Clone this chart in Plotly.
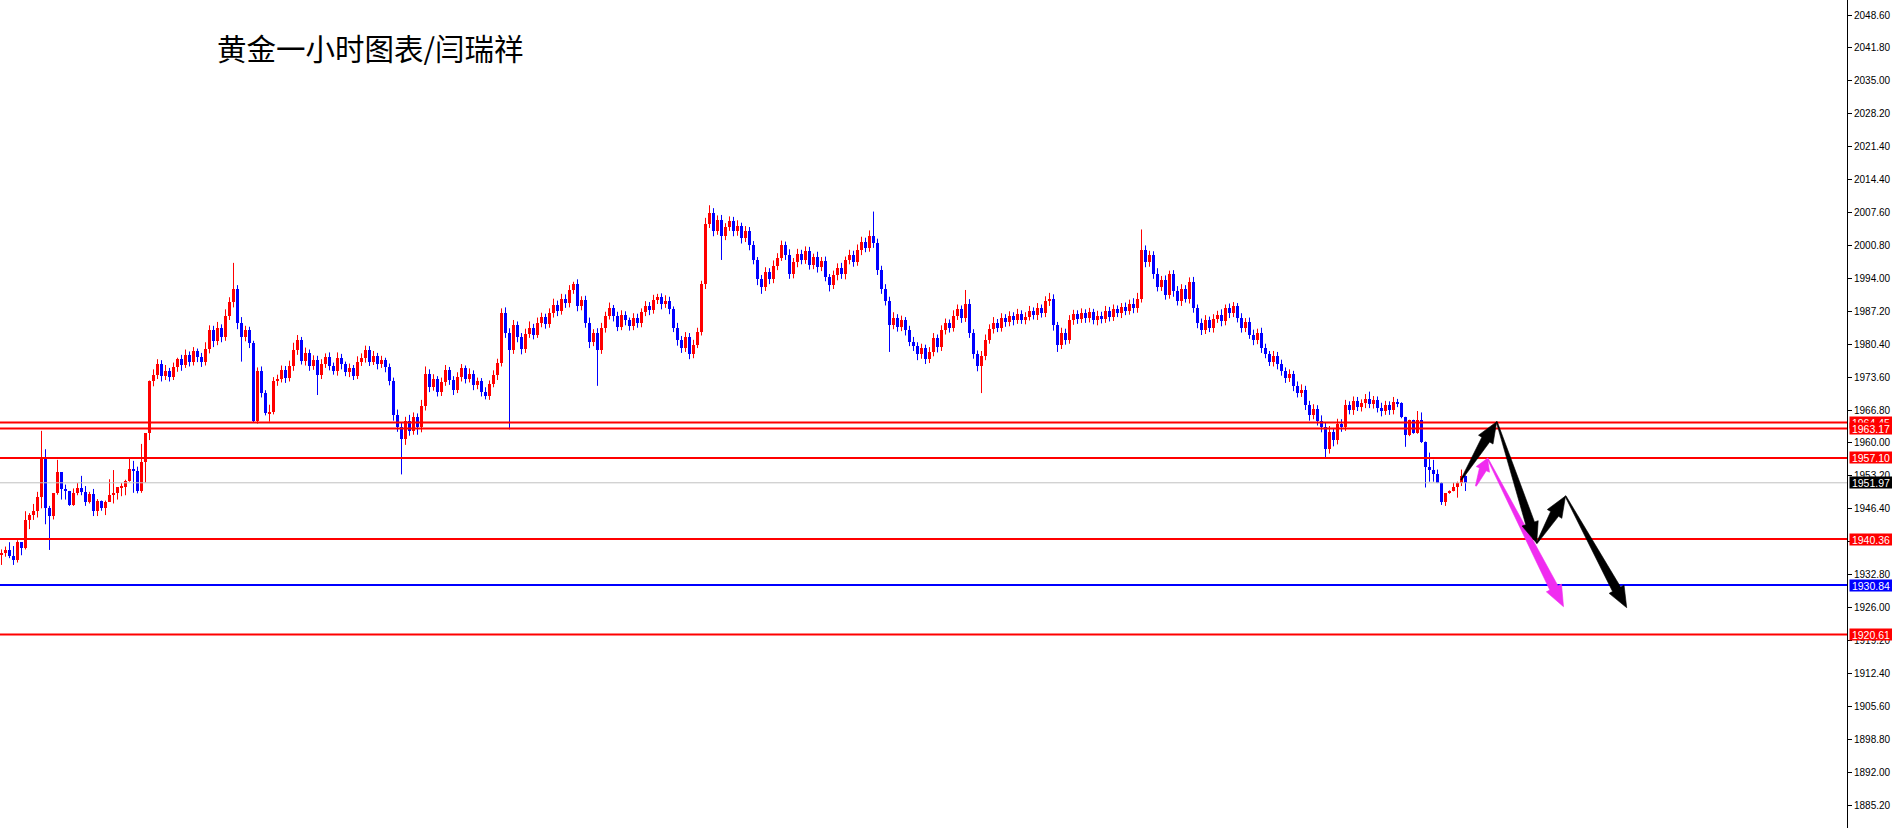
import math
import plotly.graph_objects as go

# ---------------- data ----------------
OPEN0 = 1937.1
closes = [
    1937.5, 1938.1, 1936.8, 1936.0, 1939.7, 1938.4, 1944.3, 1945.3, 1946.1, 1949.1,
    1957.2, 1946.8, 1945.1, 1949.8, 1954.2, 1950.6, 1950.3, 1947.4, 1949.8, 1950.8,
    1950.1, 1948.1, 1949.7, 1946.2, 1948.3, 1946.8, 1948.0, 1949.4, 1949.9, 1951.0,
    1951.2, 1952.4, 1954.8, 1954.5, 1950.3, 1956.3, 1962.2, 1972.9, 1974.2, 1976.5,
    1974.0, 1975.1, 1973.9, 1975.8, 1977.5, 1976.3, 1978.4, 1977.0, 1979.1, 1978.0,
    1976.9, 1979.6, 1983.5, 1981.2, 1984.0, 1982.0, 1986.5, 1989.3, 1992.0, 1985.0,
    1982.0, 1983.5, 1980.8, 1964.8, 1975.0, 1970.5, 1966.3, 1966.6, 1972.9, 1973.5,
    1975.2, 1973.6, 1976.0, 1979.5, 1981.5, 1977.2, 1978.8, 1976.0, 1977.4, 1974.3,
    1976.5, 1978.0, 1976.2, 1975.0, 1977.8, 1976.5, 1974.8, 1975.6, 1974.1, 1976.9,
    1977.8, 1979.5, 1977.0, 1978.2, 1976.5, 1977.3, 1975.8, 1973.0, 1966.0, 1963.5,
    1961.0, 1964.8, 1962.7, 1965.6, 1963.4, 1967.8, 1974.5, 1971.8, 1973.4, 1970.8,
    1972.8, 1975.2, 1973.2, 1971.2, 1973.8, 1975.6, 1973.5, 1974.4, 1972.2, 1973.0,
    1970.8, 1970.0, 1972.4, 1974.2, 1976.8, 1987.0, 1983.0, 1979.5, 1984.5, 1982.0,
    1979.6, 1982.8, 1984.0, 1982.6, 1985.0, 1986.2, 1984.8, 1987.0, 1988.8, 1987.5,
    1990.0, 1989.1, 1991.7, 1993.0, 1988.5, 1989.7, 1985.0, 1981.0, 1983.0, 1979.5,
    1984.0, 1986.5, 1988.0, 1986.4, 1984.2, 1986.6, 1985.5, 1984.3, 1986.0, 1985.0,
    1987.2, 1988.4, 1987.6, 1989.8, 1990.3, 1988.9, 1989.5, 1987.8, 1984.0, 1981.5,
    1979.8, 1982.0, 1978.6, 1980.5, 1983.2, 1993.0, 2005.5, 2007.8, 2004.0, 2006.2,
    2003.0, 2004.8, 2006.0, 2003.9, 2005.0, 2002.5, 2004.0, 2001.0, 1998.0, 1994.0,
    1992.5, 1995.5, 1994.0, 1996.8, 1998.5, 2001.0, 1999.0, 1995.0, 1997.5, 1999.3,
    1998.0, 1999.8, 1997.0, 1998.6, 1996.5, 1997.8, 1994.5, 1992.8, 1994.8, 1996.4,
    1995.0, 1997.9, 1999.0, 1997.5, 2000.0, 2001.8, 2000.5, 2003.0, 2001.5, 1996.0,
    1992.0, 1989.5, 1984.5, 1986.0, 1984.2, 1985.5, 1983.5, 1981.0, 1980.2, 1978.5,
    1979.8, 1977.5, 1979.0, 1981.8, 1980.0, 1983.5, 1985.0, 1984.0, 1986.5, 1987.8,
    1986.0, 1989.0, 1983.0, 1978.5, 1976.0, 1978.2, 1981.5, 1983.8, 1985.0, 1984.0,
    1986.0, 1985.2, 1986.5, 1985.6, 1986.8, 1985.7, 1986.3, 1987.5, 1986.6, 1988.0,
    1987.0, 1989.5, 1990.0, 1984.5, 1980.5, 1983.0, 1981.5, 1985.5, 1986.8, 1985.8,
    1987.0, 1986.0, 1987.2, 1985.5, 1986.5, 1985.8, 1987.4, 1986.3, 1987.8, 1987.0,
    1988.2, 1987.5, 1989.0, 1988.0, 1990.0, 2000.0, 1997.5, 1999.0, 1995.2, 1992.5,
    1993.8, 1990.8, 1995.0, 1991.5, 1989.5, 1992.0, 1990.0, 1993.5, 1988.0, 1985.0,
    1983.5, 1985.5, 1984.0, 1985.8, 1986.6, 1985.4, 1988.0, 1987.0, 1988.4, 1986.0,
    1984.0, 1985.2, 1982.5, 1981.5, 1983.0, 1979.8, 1978.5, 1977.0, 1978.2, 1976.5,
    1975.0, 1973.6, 1974.4, 1972.0, 1970.5, 1971.2, 1968.0, 1966.0, 1967.2, 1964.8,
    1963.5, 1959.0, 1962.5, 1960.8, 1964.2, 1963.5, 1968.0, 1967.0, 1968.8, 1967.6,
    1968.4, 1969.3, 1968.2, 1969.0, 1967.5, 1966.8, 1968.0, 1967.0, 1968.6, 1968.4,
    1965.5, 1961.8, 1964.9, 1962.2, 1964.9, 1960.3, 1955.3, 1954.7, 1953.7, 1952.0,
    1948.1, 1949.8, 1950.3, 1951.0, 1952.0, 1953.4, 1951.97,
]
upper_wick = [
    .7, .7, 1.6, 2.1, .4, 0, 1.8, .4, 1.5, 1.0,
    5.5, 1.7, .4, 0, 2.5, 0, 1.0, 0, 1.0, 1.1,
    2.6, 1.2, .4, 1.0, .3, 0, .3, 3.3, 4.7, 0,
    .7, .2, 2.4, 1.7, .8, 3.7, 0, .2, 1.2, 1.0,
    .8, 1.2, .6, 1.0, .3, .9, 1.1, .7, .9, .6,
    .8, 1.4, 1.0, .9, 1.2, .7, 1.3, 1.0, 5.4, .8,
    1.2, .9, .7, .5, .8, 1.0, .6, 1.5, .9, .8,
    1.0, .9, 1.2, 1.4, 1.0, .6, 1.1, .7, .9, .8,
    1.0, .7, .9, .6, 1.1, .8, .5, 1.0, .7, 1.2,
    .9, .8, .7, 1.0, .6, .9, .5, .8, .7, 1.1,
    1.0, .8, 1.2, .9, .7, 1.3, 1.5, .9, 1.0, .6,
    .9, 1.1, .7, .8, 1.0, .9, .6, 1.2, .8, .7,
    .6, .9, .7, 1.0, .8, 1.0, 1.2, .9, 1.1, .8,
    .9, 1.0, 1.3, .8, 1.1, .9, .7, 1.0, 1.2, .8,
    1.0, .9, 1.1, .5, 1.0, .8, .9, 1.1, .7, .9,
    1.0, .8, 1.2, .7, .9, 1.0, .8, .6, 1.0, .9,
    .8, 1.1, .9, 1.0, .7, .8, 1.2, .9, .6, 1.0,
    .8, 1.1, .9, 1.0, .8, .7, 1.2, 1.5, .9, 1.0,
    1.1, .8, 1.0, .9, 1.2, .7, 1.0, .8, .9, .6,
    .9, 1.0, .8, 1.1, .9, 1.0, .8, 1.2, .9, 1.0,
    .8, 1.0, .9, .7, 1.1, .8, .9, .6, 1.0, .9,
    1.0, .8, 1.1, .9, 1.2, 1.0, .8, 1.1, 5.0, .9,
    .8, 1.0, .9, 1.2, .8, 1.0, .7, .9, 1.1, .8,
    .9, .7, 1.0, 1.1, .8, 1.0, .9, .7, 1.1, 1.0,
    .8, 2.8, .9, .7, .8, 1.0, 1.1, .9, 1.2, .8,
    1.0, .8, .9, .7, 1.1, .8, .9, 1.0, .7, 1.1,
    .8, 1.0, 1.2, .9, .7, 1.0, .8, 1.1, .9, .8,
    1.0, .8, .9, .7, 1.0, .8, 1.1, .9, 1.0, .8,
    .9, 1.0, .8, 1.1, 1.2, 4.3, 1.0, .9, .8, 1.1,
    .9, 1.0, .8, .9, 1.1, 1.0, .8, .9, 1.0, .8,
    .9, 1.1, .8, 1.0, .9, 1.2, .8, 1.0, .9, .7,
    1.0, .8, .9, 1.1, .8, 1.0, .9, .7, 1.0, .8,
    .9, .8, 1.0, .7, .9, 1.1, .8, .9, 1.0, .8,
    1.1, .9, 1.2, .8, 1.0, .9, 1.1, .8, 1.0, .9,
    .8, 1.0, 1.5, .9, .8, 1.0, .9, .8, 1.1, .7,
    .2, .1, .1, .1, 1.9, 1.6, .2, 2.9, 2.0, 1.0,
    .1, 0, .1, 1.0, .2, 1.3, .1,
]
lower_wick = [
    2.1, .8, .4, 1.0, .5, 1.4, .2, 1.9, 1.0, 1.3,
    2.4, 3.4, 7.0, .7, .3, 2.1, 1.8, .2, .2, .4,
    .7, .9, .4, 1.1, 1.1, .6, 1.5, 0, 1.7, 1.4,
    1.8, 1.8, .2, 4.6, .5, .4, 4.3, 1.4, 1.0, .8,
    1.1, .8, 1.0, .7, .9, 1.2, .6, 1.0, .8, 1.1,
    1.0, .7, .9, 1.2, .8, 1.0, .7, .9, 1.1, 1.3,
    5.0, .8, 1.0, .3, .6, .9, .4, 1.7, .5, .9,
    .8, 1.0, .7, .9, 1.1, .8, 1.0, .9, .7, 4.2,
    .9, .8, 1.0, .7, .9, 1.1, .8, 1.0, .9, .7,
    .8, 1.0, .9, .7, 1.1, .8, 1.0, .9, 1.2, 1.0,
    7.3, 1.2, 1.0, .8, 1.5, 1.0, .9, 1.1, .8, 1.0,
    .9, .8, 1.0, 1.1, .7, .9, 1.0, .8, 1.1, .9,
    1.0, .8, .9, .7, 1.0, .8, 1.1, 16.5, .9, 1.0,
    1.1, .8, .9, 1.0, .7, .9, 1.0, .8, .9, 1.1,
    .8, 1.0, .9, .7, 1.1, .9, 1.0, 1.2, .8, 7.5,
    .9, 1.0, .8, 1.1, .9, .7, 1.0, .9, .8, 1.0,
    .9, .8, 1.0, .7, .9, 1.1, .8, 1.0, .9, 1.2,
    1.0, .8, 1.1, .9, .7, .8, 1.0, .9, 1.1, .8,
    5.0, .9, .8, 1.0, .9, 1.1, .8, 1.0, .9, 1.2,
    1.5, .9, 1.0, .8, .9, .7, 1.0, .9, .8, 1.0,
    .9, .8, 1.0, .9, 1.1, .8, .9, 1.3, .8, 1.0,
    .9, 1.0, .8, .9, .7, 1.0, .9, .8, 1.0, 1.1,
    1.0, .9, 5.5, .8, 1.0, .9, 1.1, .8, 1.0, 1.2,
    .9, 1.0, .8, .9, 1.1, .8, .9, 1.0, .8, .9,
    1.0, .8, 1.1, .9, 1.0, 5.5, .9, .8, 1.0, .9,
    .8, 1.0, .9, 1.1, .8, .9, 1.0, .8, .9, 1.0,
    .9, .8, 1.0, 1.1, 1.5, .9, 1.0, .8, .9, 1.0,
    .8, 1.0, .9, .8, 1.0, .9, .8, 1.0, .9, .8,
    1.0, .9, .8, 1.0, .9, .8, 1.0, .9, 1.1, 1.0,
    .9, 1.0, .8, 1.1, .9, 1.0, .8, 1.0, .9, 1.1,
    1.0, .8, .9, 1.0, .8, 1.1, .9, 1.0, .8, .9,
    1.0, .9, .8, 1.1, .9, 1.0, .8, .9, 1.0, 1.1,
    .9, 1.0, .8, 1.1, .9, .8, 1.0, 1.2, .9, 1.0,
    1.1, 2.0, 1.0, 1.3, .9, 1.0, .8, .9, 1.0, .8,
    .9, 1.0, .8, .9, 1.0, 1.1, .8, 1.0, .9, .8,
    .2, 2.4, .2, .1, .1, .1, 4.3, 2.5, 1.5, .1,
    .7, .9, .1, .1, 2.1, .7, 1.7,
]

tick_text = ["2048.60", "2041.80", "2035.00", "2028.20", "2021.40", "2014.40", "2007.60",
             "2000.80", "1994.00", "1987.20", "1980.40", "1973.60", "1966.80", "1960.00",
             "1953.20", "1946.40", "1939.60", "1932.80", "1926.00", "1919.20", "1912.40",
             "1905.60", "1898.80", "1892.00", "1885.20"]
tick_vals = [2048.6, 2041.8, 2035.0, 2028.2, 2021.4, 2014.6, 2007.8, 2001.0, 1994.2,
             1987.4, 1980.6, 1973.8, 1967.0, 1960.2, 1953.4, 1946.6, 1939.8, 1933.0,
             1926.2, 1919.4, 1912.6, 1905.8, 1899.0, 1892.2, 1885.4]

level_prices = [1964.45, 1963.17, 1957.10, 1940.36, 1930.84, 1920.61]
level_colors = ["#FF0000", "#FF0000", "#FF0000", "#FF0000", "#0000FF", "#FF0000"]
last_price = 1951.97

# projected arrows: (tail candle-index, tail price, tip candle-index, tip price)
black_arrows = [(364.9, 1952.55, 373.8, 1964.59), (373.8, 1964.59, 383.8, 1939.47),
                (383.8, 1939.47, 391.0, 1949.24), (391.0, 1949.24, 406.3, 1926.17)]
magenta_arrows = [(368.6, 1951.31, 371.5, 1957.03), (371.5, 1957.03, 390.5, 1926.38)]

title_text = "黄金一小时图表/闫瑞祥"

# ---------------- layout geometry ----------------
W, H = 1892, 828
MR = 45
PLOT_W = W - MR
PX_PER_BAR = 4.0
X0 = -0.375
X1 = X0 + PLOT_W / PX_PER_BAR
PX_PER_USD = 4.841
YMAX = 2051.70
YMIN = YMAX - H / PX_PER_USD

UP, DOWN = "#FF0000", "#0000FF"

n = len(closes)
opens = [OPEN0] + closes[:-1]
idx = list(range(n))

up_x, up_base, up_h, dn_x, dn_base, dn_h = [], [], [], [], [], []
wick = {UP: ([], []), DOWN: ([], [])}
for i, o, c, uw, lw in zip(idx, opens, closes, upper_wick, lower_wick):
    top, bot = max(o, c), min(o, c)
    col = UP if c >= o else DOWN
    h = max(top - bot, 0.21)
    if col == UP:
        up_x.append(i); up_base.append(bot); up_h.append(h)
    else:
        dn_x.append(i); dn_base.append(bot); dn_h.append(h)
    wx, wy = wick[col]
    wx += [i, i, None]
    wy += [bot - lw, top + uw, None]

fig = go.Figure()
for col, (wx, wy) in wick.items():
    fig.add_trace(go.Scatter(x=wx, y=wy, mode="lines", line=dict(color=col, width=1),
                             hoverinfo="skip", showlegend=False))
fig.add_trace(go.Bar(x=up_x, y=up_h, base=up_base, width=0.75, marker_color=UP,
                     marker_line_width=0, showlegend=False))
fig.add_trace(go.Bar(x=dn_x, y=dn_h, base=dn_base, width=0.75, marker_color=DOWN,
                     marker_line_width=0, showlegend=False))

shapes = []
# last price line (grey)
shapes.append(dict(type="line", xref="paper", x0=0, x1=1, yref="y", y0=last_price,
                   y1=last_price, line=dict(color="#C0C0C0", width=1)))
for p, col in zip(level_prices, level_colors):
    shapes.append(dict(type="line", xref="paper", x0=0, x1=1, yref="y", y0=p, y1=p,
                       line=dict(color=col, width=2)))


def to_px(x, y):
    return (x - X0) * PX_PER_BAR, (YMAX - y) * PX_PER_USD


def to_data(px, py):
    return X0 + px / PX_PER_BAR, YMAX - py / PX_PER_USD


def wedge_path(xa, ya, xb, yb):
    ax, ay = to_px(xa, ya)
    bx, by = to_px(xb, yb)
    dx, dy = bx - ax, by - ay
    L = math.hypot(dx, dy)
    ux, uy = dx / L, dy / L
    nx, ny = -uy, ux
    head_l = min(21.0, 0.4 * L)
    head_w = min(8.5, 0.18 * L + 1.8)
    shaft_w = min(4.6, 0.09 * L + 1.0)
    tail_w = 0.5
    cx, cy = bx - ux * head_l, by - uy * head_l
    pts = [
        (ax + nx * tail_w, ay + ny * tail_w),
        (cx + nx * shaft_w, cy + ny * shaft_w),
        (cx + nx * head_w, cy + ny * head_w),
        (bx, by),
        (cx - nx * head_w, cy - ny * head_w),
        (cx - nx * shaft_w, cy - ny * shaft_w),
        (ax - nx * tail_w, ay - ny * tail_w),
    ]
    d = [to_data(px, py) for px, py in pts]
    return "M " + " L ".join(f"{x:.4f},{y:.4f}" for x, y in d) + " Z"


for arrows, col in ((magenta_arrows, "#F02CF0"), (black_arrows, "#000000")):
    for a in arrows:
        shapes.append(dict(type="path", xref="x", yref="y", path=wedge_path(*a),
                           fillcolor=col, line=dict(width=0.6, color=col)))

annotations = []
for p, col in zip(level_prices + [last_price], level_colors + ["#000000"]):
    annotations.append(dict(x=1, xref="paper", y=p, yref="y", xanchor="left", yanchor="middle",
                            xshift=2, text=f"{p:.2f}", showarrow=False, bgcolor=col,
                            width=42, height=11, borderpad=0, align="center",
                            font=dict(family="Liberation Sans", size=10.5, color="#FFFFFF")))
annotations.append(dict(x=215 / PLOT_W, xref="paper", y=1 - 47 / H, yref="paper",
                        xanchor="left", yanchor="middle", text=title_text, showarrow=False,
                        font=dict(family="Noto Sans CJK SC", size=29.5, color="#000000")))

fig.update_layout(
    width=W, height=H, margin=dict(l=0, r=MR, t=0, b=0, pad=0),
    paper_bgcolor="#FFFFFF", plot_bgcolor="#FFFFFF",
    barmode="overlay", bargap=0, showlegend=False,
    shapes=shapes, annotations=annotations,
    xaxis=dict(range=[X0, X1], visible=False, fixedrange=True),
    yaxis=dict(range=[YMIN, YMAX], side="right", showgrid=False, zeroline=False,
               showline=True, linecolor="#000000", linewidth=1, mirror=False,
               ticks="outside", ticklen=4, tickcolor="#000000", tickwidth=1,
               tickvals=tick_vals, ticktext=tick_text,
               tickfont=dict(family="Liberation Sans", size=10, color="#000000"),
               fixedrange=True),
)

fig.write_html("out.html", config={"displayModeBar": False},
               post_script="document.body.style.margin='0';document.body.style.overflow='hidden';")
